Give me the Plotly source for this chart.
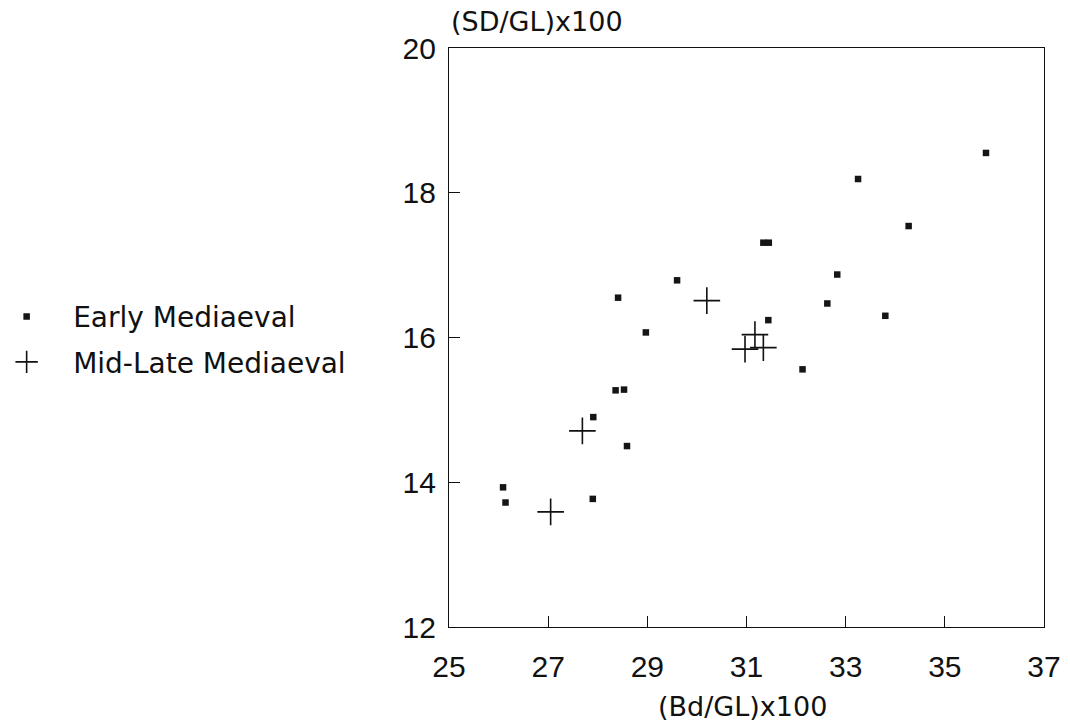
import plotly.graph_objects as go

# Early Mediaeval specimens
early_bd = [26.09, 26.14, 27.90, 27.91, 28.36, 28.53, 28.59, 28.41, 28.97, 29.60,
            31.34, 31.45, 31.44, 32.13, 32.63, 32.83, 33.25, 33.80, 34.27, 35.83]
early_sd = [13.93, 13.72, 13.77, 14.90, 15.27, 15.28, 14.50, 16.55, 16.07, 16.79,
            17.31, 17.31, 16.24, 15.56, 16.47, 16.87, 18.19, 16.30, 17.54, 18.55]

# Mid-Late Mediaeval specimens
late_bd = [27.05, 27.69, 30.20, 30.97, 31.17, 31.34]
late_sd = [13.59, 14.71, 16.51, 15.84, 16.04, 15.86]

x_ticks = [25, 27, 29, 31, 33, 35, 37]
y_ticks = [12, 14, 16, 18, 20]

TICK_FONT = "Liberation Sans, Arial, sans-serif"
TEXT_FONT = "DejaVu Sans, sans-serif"
INK = "#111111"

fig = go.Figure()
fig.add_trace(go.Scatter(
    x=early_bd, y=early_sd, mode="markers", name="Early Mediaeval",
    legendgroup="early",
    marker=dict(symbol="square", size=6.5, color="#151515"),
))
fig.add_trace(go.Scatter(
    x=late_bd, y=late_sd, mode="markers", name="Mid-Late Mediaeval",
    legendgroup="late",
    marker=dict(symbol="cross-thin", size=19, color=INK,
                line=dict(width=1.6, color=INK)),
))

axis_common = dict(
    showgrid=False, zeroline=False, showline=True, linecolor=INK,
    linewidth=1.3, mirror=True, ticks="inside", ticklen=11, tickwidth=1.2,
    tickcolor=INK, tickfont=dict(family=TICK_FONT, size=30, color=INK),
    automargin=False,
)

fig.update_layout(
    width=1070, height=721,
    margin=dict(l=449, r=26, t=48, b=94, autoexpand=False),
    paper_bgcolor="white", plot_bgcolor="white",
    xaxis=dict(range=[25, 37], tickvals=x_ticks, ticklabelstandoff=13, **axis_common),
    yaxis=dict(range=[12, 20], tickvals=y_ticks, ticklabelstandoff=6, **axis_common),
    showlegend=True,
    legend=dict(
        x=-0.788, y=0.497, xanchor="left", yanchor="middle",
        traceorder="grouped", tracegroupgap=6, itemwidth=83,
        font=dict(family=TEXT_FONT, size=28, color=INK),
        bgcolor="rgba(0,0,0,0)",
    ),
    annotations=[
        dict(text="(SD/GL)x100", xref="paper", yref="paper", x=0.0, y=1.045,
             xanchor="left", yanchor="middle", showarrow=False,
             font=dict(family=TEXT_FONT, size=27, color=INK)),
        dict(text="(Bd/GL)x100", xref="paper", yref="paper", x=0.494, y=-0.138,
             xanchor="center", yanchor="middle", showarrow=False,
             font=dict(family=TEXT_FONT, size=27, color=INK)),
    ],
)

fig.write_html("out.html")
